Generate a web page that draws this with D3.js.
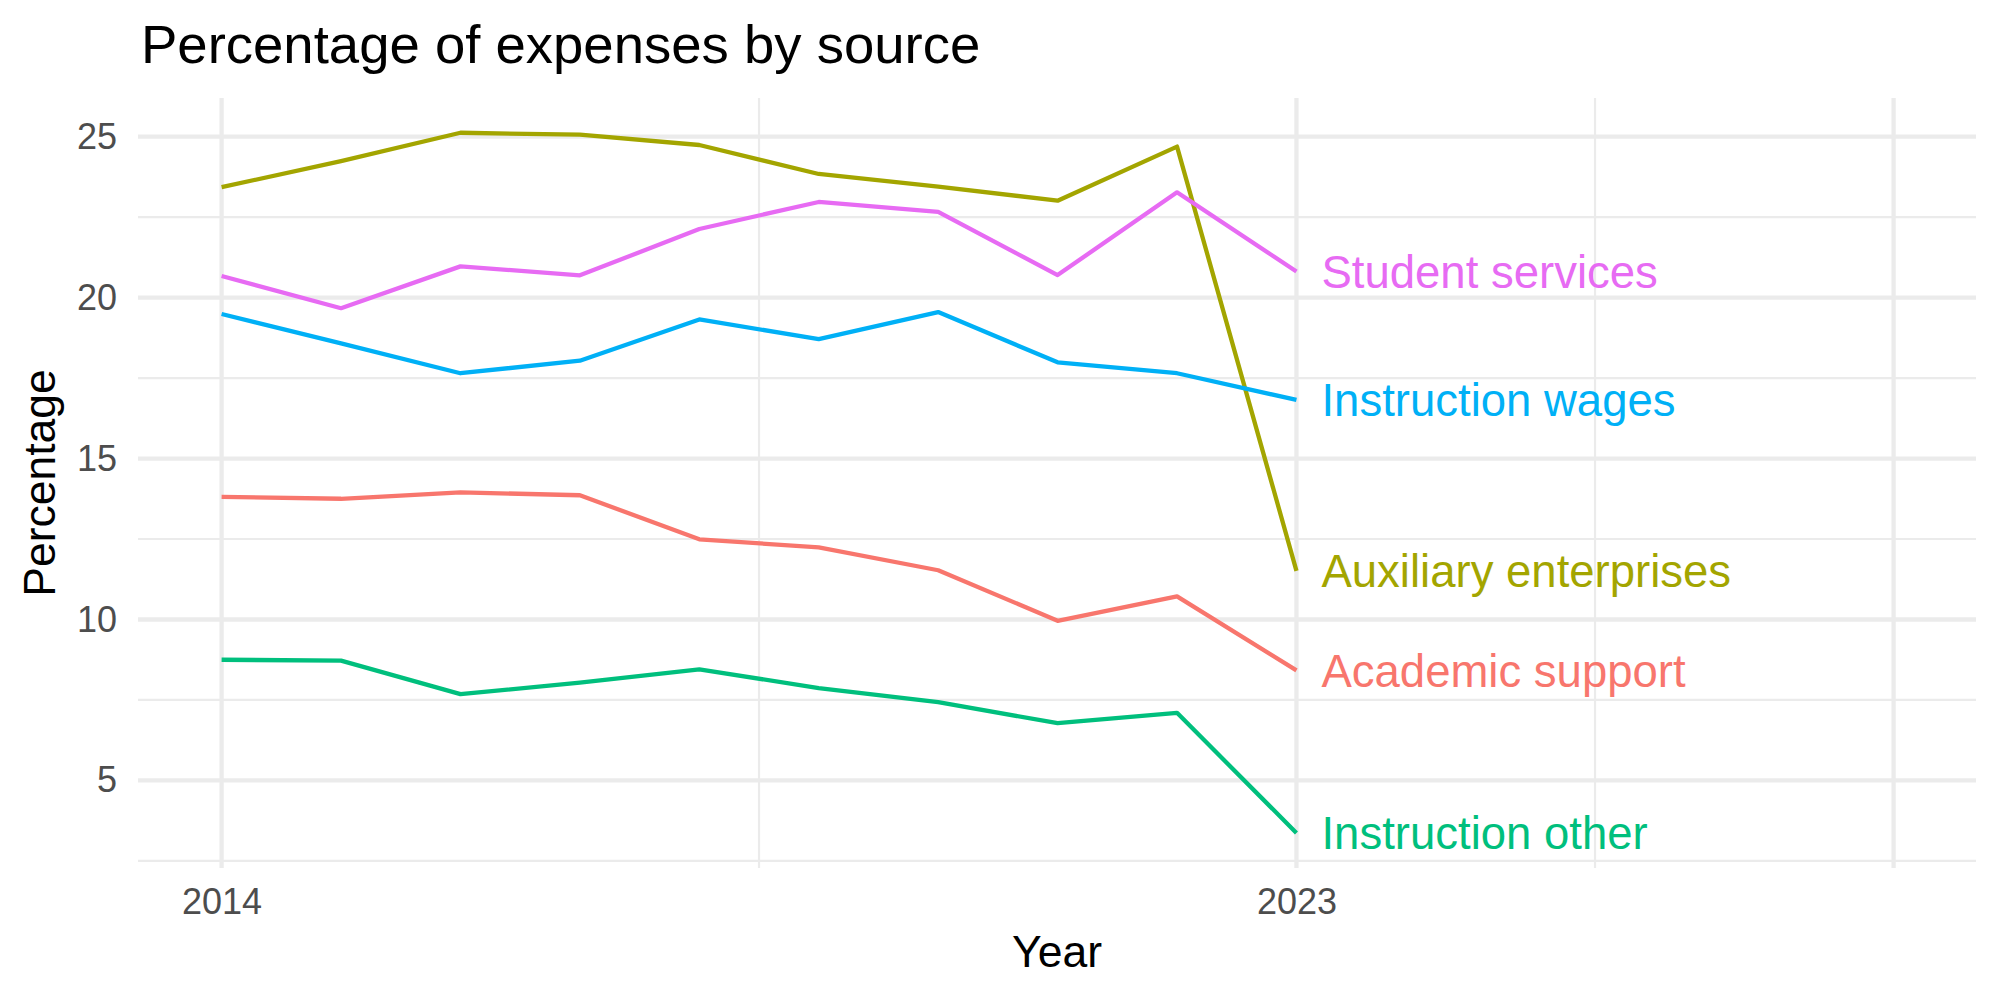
<!DOCTYPE html>
<html>
<head>
<meta charset="utf-8">
<script src="https://cdn.jsdelivr.net/npm/d3@7"></script>
<style>
  body { margin: 0; background: #fff; }
  text { font-family: "Liberation Sans", Arial, sans-serif; }
</style>
</head>
<body>
<div id="chart"></div>
<script>
// Data
const years = [2014, 2015, 2016, 2017, 2018, 2019, 2020, 2021, 2022, 2023]
const sources = ['Academic support', 'Auxiliary enterprises', 'Instruction other', 'Instruction wages', 'Student services']
const academicSupport = [13.81, 13.75, 13.95, 13.86, 12.49, 12.24, 11.53, 9.96, 10.72, 8.42]
const auxiliaryEnterprises = [23.43, 24.24, 25.12, 25.06, 24.74, 23.84, 23.45, 23.01, 24.69, 11.51]
const instructionOther = [8.75, 8.72, 7.68, 8.04, 8.45, 7.87, 7.43, 6.78, 7.10, 3.37]
const instructionWages = [19.49, 18.58, 17.65, 18.04, 19.32, 18.71, 19.55, 17.99, 17.65, 16.82]
const studentServices = [20.67, 19.67, 20.97, 20.69, 22.13, 22.97, 22.66, 20.70, 23.27, 20.81]
const palette = ['#F8766D', '#A3A500', '#00BF7D', '#00B0F6', '#E76BF3']

const xTicks = [2014, 2023, 2028]
const xTickLabels = ['2014', '2023', '']
const xMinor = [2018.5, 2025.5]
const yTicks = [5, 10, 15, 20, 25]
const yMinor = [2.5, 7.5, 12.5, 17.5, 22.5]

const seriesValues = [academicSupport, auxiliaryEnterprises, instructionOther, instructionWages, studentServices]
const series = sources.map((name, i) => ({
  name,
  values: years.map((year, j) => ({ year, value: seriesValues[i][j] }))
}))

// Dimensions
let dimensions = {
  width: 2000,
  height: 1000,
  left: 138,
  right: 24,
  top: 98,
  bottom: 132,
}
dimensions.ctrWidth = dimensions.width - dimensions.left - dimensions.right
dimensions.ctrHeight = dimensions.height - dimensions.top - dimensions.bottom

const svg = d3.select('#chart')
  .append('svg')
  .attr('width', dimensions.width)
  .attr('height', dimensions.height)

const ctr = svg.append('g')
  .attr('transform', `translate(${dimensions.left}, ${dimensions.top})`)

// Scales
const xScale = d3.scaleLinear()
  .domain([2013.3, 2028.69])
  .range([0, dimensions.ctrWidth])

const yScale = d3.scaleLinear()
  .domain([2.28, 26.2])
  .range([dimensions.ctrHeight, 0])

const colorScale = d3.scaleOrdinal()
  .domain(sources)
  .range(palette)

// Grid
const grid = ctr.append('g').attr('stroke', '#EBEBEB').attr('fill', 'none')

grid.selectAll('.y-minor')
  .data(yMinor)
  .join('line')
  .attr('x1', 0).attr('x2', dimensions.ctrWidth)
  .attr('y1', d => yScale(d)).attr('y2', d => yScale(d))
  .attr('stroke-width', 2.2)

grid.selectAll('.x-minor')
  .data(xMinor)
  .join('line')
  .attr('y1', 0).attr('y2', dimensions.ctrHeight)
  .attr('x1', d => xScale(d)).attr('x2', d => xScale(d))
  .attr('stroke-width', 2.2)

grid.selectAll('.y-major')
  .data(yTicks)
  .join('line')
  .attr('x1', 0).attr('x2', dimensions.ctrWidth)
  .attr('y1', d => yScale(d)).attr('y2', d => yScale(d))
  .attr('stroke-width', 4.3)

grid.selectAll('.x-major')
  .data(xTicks)
  .join('line')
  .attr('y1', 0).attr('y2', dimensions.ctrHeight)
  .attr('x1', d => xScale(d)).attr('x2', d => xScale(d))
  .attr('stroke-width', 4.3)

// Axes
const xAxis = d3.axisBottom(xScale)
  .tickValues(xTicks)
  .tickFormat((d, i) => xTickLabels[i])
  .tickSize(0)
  .tickPadding(20)

const yAxis = d3.axisLeft(yScale)
  .tickValues(yTicks)
  .tickSize(0)
  .tickPadding(21)

const xAxisG = ctr.append('g')
  .attr('transform', `translate(0, ${dimensions.ctrHeight})`)
  .call(xAxis)

const yAxisG = ctr.append('g')
  .call(yAxis)

;[xAxisG, yAxisG].forEach(g => {
  g.select('.domain').remove()
  g.selectAll('text')
    .attr('fill', '#4D4D4D')
    .style('font-size', '36px')
    .style('font-family', '"Liberation Sans", Arial, sans-serif')
})

// Lines
const lineGenerator = d3.line()
  .x(d => xScale(d.year))
  .y(d => yScale(d.value))

ctr.append('g')
  .selectAll('path')
  .data(series)
  .join('path')
  .attr('d', d => lineGenerator(d.values))
  .attr('fill', 'none')
  .attr('stroke', d => colorScale(d.name))
  .attr('stroke-width', 4.3)
  .attr('stroke-linejoin', 'round')

// End labels
ctr.append('g')
  .selectAll('text')
  .data(series)
  .join('text')
  .attr('x', d => xScale(d.values[d.values.length - 1].year) + 25)
  .attr('y', d => yScale(d.values[d.values.length - 1].value))
  .attr('dy', '0.36em')
  .attr('fill', d => colorScale(d.name))
  .style('font-size', '45.5px')
  .text(d => d.name)

// Titles
svg.append('text')
  .attr('x', dimensions.left + 3)
  .attr('y', 63)
  .style('font-size', '54.5px')
  .attr('fill', '#000')
  .text('Percentage of expenses by source')

svg.append('text')
  .attr('x', dimensions.left + dimensions.ctrWidth / 2)
  .attr('y', 967)
  .attr('text-anchor', 'middle')
  .style('font-size', '44.5px')
  .attr('fill', '#000')
  .text('Year')

svg.append('text')
  .attr('transform', `translate(55, ${dimensions.top + dimensions.ctrHeight / 2}) rotate(-90)`)
  .attr('text-anchor', 'middle')
  .style('font-size', '44.5px')
  .attr('fill', '#000')
  .text('Percentage')
</script>
</body>
</html>
